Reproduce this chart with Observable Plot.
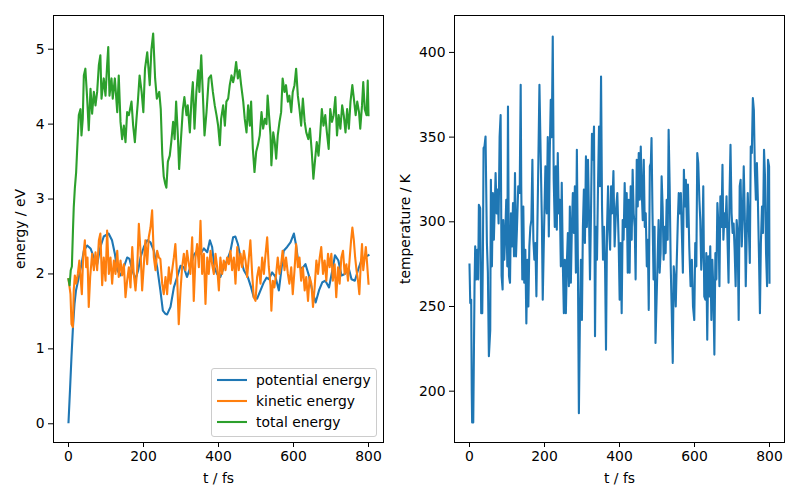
<!DOCTYPE html>
<html>
<head>
<meta charset="utf-8">
<script src="https://cdn.jsdelivr.net/npm/d3@7"></script>
<script src="https://cdn.jsdelivr.net/npm/@observablehq/plot@0.6"></script>
<style>
  html, body { margin: 0; padding: 0; background: white; }
  #fig { position: relative; width: 800px; height: 500px; background: white; font-family: "DejaVu Sans", sans-serif; }
  #left { position: absolute; left: 0; top: 0; }
  #right { position: absolute; left: 390px; top: 0; }
  #legend { position: absolute; left: 211px; top: 368px; width: 164px; height: 67px; border: 1px solid #cccccc; border-radius: 3px; background: rgba(255,255,255,0.8); font-size: 13.9px; font-family: "DejaVu Sans", sans-serif; color: black; }
  #legend .row { position: absolute; left: 0; height: 20px; }
  #legend svg { position: absolute; left: 5px; top: 0; }
  #legend span { position: absolute; left: 44px; top: 1px; white-space: nowrap; line-height: 16px; }
</style>
</head>
<body>
<div id="fig">
  <div id="left"></div>
  <div id="right"></div>
  <div id="legend"></div>
</div>
<script>
// ---- data ----
const xTicks = [0, 200, 400, 600, 800];
const energyTicks = [0, 1, 2, 3, 4, 5];
const tempTicks = [200, 250, 300, 350, 400];
const seriesNames = ["potential energy", "kinetic energy", "total energy"];
const seriesColors = ["#1f77b4", "#ff7f0e", "#2ca02c"];

const potT = [0,4,8,12,16,20,27.6,34.7,40.9,49.8,58.7,67.6,76.4,85,94,107,116,123.6,130,138.7,147.6,156.4,162.7,170,178.7,185.8,192,200.9,210,218.7,227.6,236.4,245,251.6,258,263,272,281,289.8,298.7,307.6,316,325,334,343,352,361,370,377,383,389,396,405,414,423,432,439,445,451.6,458.7,467.6,478,487,494,503,512,521,528,534,543,552,561,568,574,583,592,601,607,614,623,632,641,650,659,668,677,685,694.7,703.6,710.7,719.6,728,737,747.6,754.7,763.6,772,781,790,800];
const potE = [0.02,0.45,0.9,1.3,1.6,1.78,1.96,2.13,2.31,2.38,2.34,2.22,2.13,2.36,2.5,2.54,2.45,2.27,2.05,1.98,2.09,2.22,2.2,2.05,1.93,2.05,2.22,2.36,2.45,2.42,2.31,2.09,1.78,1.51,1.47,1.46,1.56,1.82,1.96,2.11,2.09,1.96,2.09,2.25,2.31,2.27,2.34,2.29,2.45,2.36,2.09,2.0,1.96,2.09,2.18,2.31,2.49,2.5,2.4,2.22,2.05,1.96,1.82,1.69,1.67,1.78,1.89,1.95,1.93,2.02,1.96,1.78,2.07,2.31,2.36,2.42,2.54,2.38,2.11,2.07,2.13,1.98,1.78,1.62,1.78,1.89,1.91,1.82,2.05,2.25,2.18,1.98,2.0,2.07,1.93,1.91,2.05,2.18,2.22,2.25];

const kinT = [0,5.3,8,11.6,14,16.9,20.4,24.9,29,32.9,35.6,39,43.6,47,50.7,54,57.8,63,67.6,72,76.4,81,85,89.8,94,98.7,103,107.6,112,116.4,121,125.3,130,134,138.7,143,147.6,152,156.4,161,165.3,170,174,178.7,183,187.6,192,196.4,201,205,209.8,214,218.7,223,227.6,232,236.4,241,245,249.8,254,258.7,263,267.6,272,276.4,281,285,289.8,294,298.7,303,307.6,312,316,320.9,325,329.8,334,338.7,343,347.6,352,356.4,361,365.3,370,374,378.7,383,387.6,392,396.4,401,405,409.8,414,418.7,423,427.6,432,436.4,441,445.3,450,454,458.7,463,467.6,472,476.4,481,485,489.8,494,498.7,503,507.6,512,516.4,521,525,529.8,534,538.7,541,544.9,549,553.8,558,562.7,567,571,576,580,585,589,594,598,602.7,607,611.6,616,620.4,625,629.8,634,638.7,643,647.6,652,656.4,661,665.3,670,674,678.7,683,687.6,692,696.4,701,705,709.8,714,718.7,723,727.6,732,736.4,741,745.3,750,753.6,757,760.9,764.4,768,772,775.6,779,782.7,786,790,792.9,796.4,800];
const kinE = [1.93,1.73,1.33,1.29,1.78,1.98,1.87,2.0,2.18,1.91,1.73,2.22,2.45,2.09,2.22,1.56,1.96,2.27,2.05,2.29,2.05,2.45,2.54,1.85,2.22,1.91,2.58,2.0,2.22,1.87,2.18,2.0,2.31,1.96,2.18,1.98,2.13,1.69,1.91,2.09,1.82,2.36,2.0,1.78,2.05,2.67,2.31,1.78,2.13,2.45,2.13,2.49,2.62,2.85,2.22,2.05,2.31,2.22,2.2,1.87,1.73,1.96,1.73,2.09,1.87,2.05,2.22,2.4,1.96,1.33,1.78,2.09,2.27,2.05,2.31,2.13,2.0,2.49,1.64,2.22,2.4,2.09,2.71,2.0,2.27,1.6,2.22,2.0,2.31,2.13,2.0,2.27,2.09,1.78,2.22,2.0,2.18,2.05,2.22,2.13,2.31,2.05,2.22,1.87,2.36,2.05,2.27,2.09,2.31,2.18,1.96,2.22,2.45,2.0,1.69,1.64,1.96,2.09,1.87,2.22,2.0,2.24,2.49,2.1,1.85,1.51,1.91,1.82,2.0,2.22,2.0,2.13,2.31,2.05,2.22,2.0,1.87,2.09,1.73,2.05,2.4,2.09,2.22,1.91,2.09,1.78,1.96,1.64,1.96,1.87,1.56,1.82,2.18,2.0,2.22,2.36,2.0,2.18,1.91,2.27,2.09,2.27,1.91,2.13,1.69,2.09,1.87,2.22,2.31,2.0,2.13,1.91,2.22,2.45,2.62,2.45,2.22,2.05,1.91,1.73,2.09,2.4,2.05,2.22,2.36,2.13,1.87];

const totT = [0,3,6,9,12,14,17,20.4,23,27.5,32,34.6,38,40.9,45,49.8,54,58.7,63,67.6,72,76.4,81,85,88,94,98.7,103,106,109.3,114.7,118,123.6,130,134,138.7,143,147.6,152,156.4,161,168,172.4,177,181.3,185,189.6,195,199.6,204,210,216.7,221,225.8,231,235.6,242,246,250,254,258,261,265,270,274,279,283,287,291.6,295,300.5,305,309,314.7,318,323.6,328,331.6,336,341,345.8,349,354,358,362.7,368,374,380,385,390,394.7,399,403.6,407,412.4,417,421,425.8,430,434.7,439,442.7,447,451.6,456,460.4,466,470,474.7,479,483.6,487,491.6,496,500.5,505,510,514.7,519,523.6,528,531,535,538.7,541,546,550,553.8,558,562.7,567,571,576,580,585,589,594,598,602.7,607,611.6,616,620.4,625,629.8,634,639.6,644,648.7,653,657.8,662,666.7,671,675.6,680,684.7,689,693.8,698,702.7,707,711.6,716,720.4,725,729.8,734,738.7,743,747.6,752,756.9,761,765.8,770,774.7,778,782.7,786,790,794.7,798,800];
const totE = [1.93,1.85,2.05,2.1,2.6,2.89,3.15,3.36,3.65,4.12,4.2,3.85,4.07,4.65,4.74,4.34,3.92,4.47,4.14,4.43,4.25,4.43,4.79,4.92,4.34,4.61,4.38,4.79,5.03,4.38,4.61,4.34,4.61,4.16,4.65,4.03,3.8,3.98,3.76,4.16,4.12,4.3,3.98,3.76,4.07,4.3,4.65,4.43,4.16,4.74,4.96,4.52,4.99,5.21,4.61,4.34,4.43,4.2,3.6,3.3,3.2,3.15,3.5,3.58,3.76,4.03,3.8,4.3,3.85,3.4,3.85,4.2,4.36,4.12,4.25,3.89,4.34,4.56,3.94,4.43,4.72,4.43,4.92,4.43,3.85,4.16,4.61,4.65,4.43,4.25,4.12,3.98,3.72,4.07,4.25,3.98,4.3,4.34,4.52,4.65,4.56,4.65,4.83,4.61,4.72,4.52,4.3,4.07,3.89,4.25,3.98,4.3,3.67,3.36,3.63,3.72,3.85,4.16,3.94,4.07,4.0,4.38,4.1,3.85,3.45,3.89,3.76,3.54,3.85,4.03,4.16,4.61,4.43,4.52,4.3,4.38,4.16,4.43,4.52,4.74,4.38,4.2,3.98,4.34,4.03,3.89,3.8,3.94,3.63,3.27,3.54,3.76,3.58,3.85,4.2,3.98,4.12,3.89,3.67,4.2,4.03,4.12,4.36,3.85,4.12,3.94,4.25,4.12,3.89,4.2,3.94,4.3,4.52,4.34,4.12,4.3,4.16,3.94,4.25,4.56,4.2,4.12,4.58,4.12];

const tempT = [0,2,4.5,6,7,10,13.4,15.2,17.8,20.5,23.2,25,28.5,31.2,34,35.7,37.5,40,42.8,46.4,49,51.7,55.3,57,59.8,62.4,65,67.8,69.6,72.3,75,77.6,80.3,83,85.6,88.3,90,92.8,95.4,98,100.8,102.6,105.3,108,110.6,113.3,116,118.7,121.3,124,126.7,130,133.8,136.5,138,140.8,143.5,146,148.9,151.6,154.3,157,159.6,162.3,165,167.7,170.3,173,175.7,178.4,181,183.7,186.5,190,193,195.3,199,202.4,206,208.7,211.5,214,216.7,219.4,222,224.6,227.4,230,232.8,235.4,238,240.8,243.5,246,249,251.6,254.2,257,259.6,262.3,265,267.6,270.3,273,275.6,278.3,281,283.7,286.3,289,291.7,294.4,297,299.8,302.4,305,307.8,310.5,313,316,318.6,321.3,324,326.6,329.3,332,334.7,337.3,340,342.7,345.4,348,350.8,353.4,356,358.8,361.5,364,366.8,369.5,372,375,377.6,380.3,383.8,387,390.6,394.2,397.8,400.4,403,405.8,408.5,411,413.8,416.5,419.2,422,424.5,427,429.8,432.5,435,437.8,440.6,443,446,448.6,451.3,454,456.7,459.4,462,464.7,467.4,470,472.8,475.5,478,480.9,483.6,485.4,488,490.8,493.5,496,498.9,501.6,504.3,507,509.6,512.3,515,517.7,520.4,523,525.8,528.5,531,533.8,536.6,539,542,544.6,547.4,550,552.8,555.6,558,560.9,563.6,566.3,569,571.7,574.4,577,579.8,582.5,586,589.5,593,596,599.4,602,604.9,607.4,610,613,615.4,618,620.8,623.4,626,629,631.4,634,636.8,639.5,642,645,647.6,650,653,655.7,658.4,661,664,666.5,669,671.9,674.6,677,680,682.6,685.4,688,690.8,693.5,696,698.9,701.6,704.3,707,709.7,712.4,715,717.8,720.5,723,726,728.6,731.3,734,736.7,739.4,742,744.8,747.5,750,752.9,755.6,758.3,761,763.7,766.4,769,771.8,774.5,777,780,782.6,785.4,788,790.8,793.5,796,798.9,800];
const tempK = [274.7,252,254,200,181.5,181.5,262,285.5,266,283.5,266,310,308,246,246,279.6,343.5,344.5,350.4,287.5,270,220.6,236,324.8,273.7,317,289.4,313,328.8,305,319,299,350.4,363,268,260,301,277.6,293.4,313,273.7,368,268,264,305,285.5,311,279.6,328.8,279.6,297,321,317,380.9,321,266,309,264,283.5,240,277.6,250,285.5,297,301,336.6,289.4,277.6,287.5,256,297,336.6,380.9,336.6,300,254,297,332.7,305,350,291.4,340.6,372,350,409.4,324.8,297,332.7,295.3,340.6,305,313,273.7,323,273.7,246,277.6,246,275.7,293.4,262,309,264,297,317,293.4,321,270,342.5,277.6,187,242,277.6,242,297,319,287.5,338.6,297,336.6,305,266,305,352,336.6,356.3,232.4,297,277.6,321,356.3,321,385.8,309,277.6,297,273.7,224.5,297,321,297,283.5,321,305,330,285.5,307,317,287.5,254,287.5,246,301,289.4,322.9,297,317,270,313,270,321,289.4,330.7,305,297,266,336.6,309,340.6,313,344.5,317,301,336.6,297,305,273.7,289.4,248,332.7,334.7,349.4,305,266,297,228.5,254,277.6,301,270,281.5,326.8,309,277.6,297,281.5,313,289.4,354.3,321,273.7,250,216.7,273.7,266,250,277.6,301,317,305,317,293.4,270,330.7,309,324.8,297,322,285.5,262,277.6,250,242,287.5,273.7,340.6,334.7,313,301,271.7,285.5,321,256,254,281.5,230.4,279.6,256,285.5,242,277.6,262,221.6,281.5,266,311,297,262,315,297,333.7,289.4,305,297,315,289.4,264,317,345.5,305,293.4,299,283.5,262,301,293.4,242,321,324.8,285.5,301,332.7,305,262,293.4,317,297,275.7,344.5,340.6,373,366,330.7,313,334.7,313,281.5,246,287.5,309,293.4,342.5,326.8,281.5,262,336.6,332.7,264];

// ---- build tables ----
const toRows = (ts, vs, name) => ts.map((t, i) => ({t, v: vs[i], name}));
const energyRows = [
  ...toRows(potT, potE, seriesNames[0]),
  ...toRows(kinT, kinE, seriesNames[1]),
  ...toRows(totT, totE, seriesNames[2])
];
const tempRows = toRows(tempT, tempK, "temperature");

const baseStyle = {fontFamily: "DejaVu Sans, sans-serif", fontSize: "13.9px", color: "black", background: "transparent", overflow: "visible"};
const intFmt = d => String(d);

const left = Plot.plot({
  width: 400, height: 500,
  marginLeft: 53, marginRight: 17, marginTop: 15, marginBottom: 58,
  style: baseStyle,
  x: {domain: [-40, 840], ticks: xTicks, tickFormat: intFmt, tickSize: 5, tickPadding: 4, label: "t / fs", labelAnchor: "center", labelOffset: 40, labelArrow: "none"},
  y: {domain: [-0.25, 5.45], ticks: energyTicks, tickFormat: intFmt, tickSize: 5, tickPadding: 4, label: "energy / eV", labelAnchor: "center", labelOffset: 38, labelArrow: "none"},
  color: {domain: seriesNames, range: seriesColors},
  marks: [
    Plot.line(energyRows, {x: "t", y: "v", z: "name", stroke: "name", strokeWidth: 2.1, strokeLinejoin: "round", strokeLinecap: "square"}),
    Plot.frame({stroke: "black", strokeWidth: 1})
  ]
});
document.getElementById("left").appendChild(left);

const right = Plot.plot({
  width: 410, height: 500,
  marginLeft: 64, marginRight: 16, marginTop: 15, marginBottom: 58,
  style: baseStyle,
  x: {domain: [-40, 840], ticks: xTicks, tickFormat: intFmt, tickSize: 5, tickPadding: 4, label: "t / fs", labelAnchor: "center", labelOffset: 40, labelArrow: "none"},
  y: {domain: [169.7, 421.8], ticks: tempTicks, tickFormat: intFmt, tickSize: 5, tickPadding: 4, label: "temperature / K", labelAnchor: "center", labelOffset: 54, labelArrow: "none"},
  marks: [
    Plot.line(tempRows, {x: "t", y: "v", stroke: seriesColors[0], strokeWidth: 2.1, strokeLinejoin: "round", strokeLinecap: "square"}),
    Plot.frame({stroke: "black", strokeWidth: 1})
  ]
});
document.getElementById("right").appendChild(right);

// ---- legend ----
const legend = document.getElementById("legend");
seriesNames.forEach((name, i) => {
  const row = document.createElement("div");
  row.className = "row";
  row.style.top = (2 + i * 21) + "px";
  row.style.width = "164px";
  row.innerHTML = `<svg width="30" height="20"><line x1="1" x2="29" y1="9" y2="9" stroke="${seriesColors[i]}" stroke-width="2.1" stroke-linecap="square"/></svg><span>${name}</span>`;
  legend.appendChild(row);
});
</script>
</body>
</html>
